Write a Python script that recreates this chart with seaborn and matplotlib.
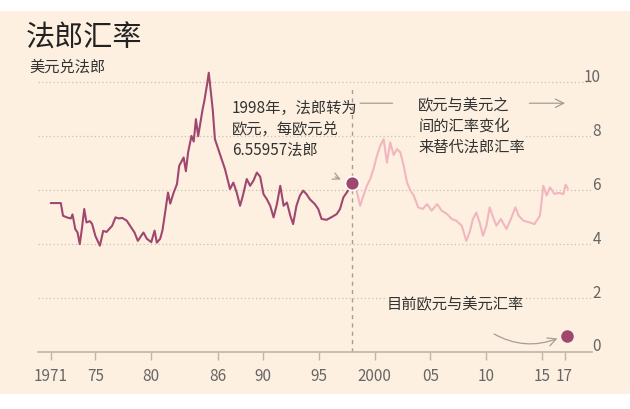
import pandas as pd
import seaborn as sns
import matplotlib.pyplot as plt
from matplotlib.patches import Rectangle
from matplotlib.transforms import ScaledTranslation

# USD/FRF until the switch to the euro
franc_years = [1971.0, 1971.9, 1972.1, 1972.5, 1972.8, 1972.95, 1973.2, 1973.4, 1973.6, 1973.8,
               1974.0, 1974.2, 1974.5, 1974.7, 1975.0, 1975.4, 1975.7, 1976.0, 1976.5, 1976.8,
               1977.1, 1977.4, 1977.8, 1978.1, 1978.5, 1978.8, 1979.3, 1979.6, 1980.0, 1980.3,
               1980.5, 1980.8, 1981.0, 1981.2, 1981.5, 1981.7, 1982.0, 1982.3, 1982.5, 1982.9,
               1983.1, 1983.3, 1983.6, 1983.8, 1984.0, 1984.2, 1984.6, 1984.75, 1985.0, 1985.15,
               1985.5, 1985.7, 1986.2, 1986.6, 1987.05, 1987.35, 1987.65, 1987.95, 1988.2, 1988.55,
               1988.85, 1989.15, 1989.45, 1989.75, 1990.05, 1990.35, 1990.65, 1990.95, 1991.25, 1991.55,
               1991.85, 1992.15, 1992.45, 1992.7, 1993.0, 1993.3, 1993.6, 1993.9, 1994.2, 1994.65,
               1994.95, 1995.25, 1995.7, 1996.15, 1996.6, 1996.9, 1997.2, 1997.5, 1997.8, 1998.0]
franc_rate = [5.52, 5.52, 5.05, 4.98, 4.95, 5.10, 4.55, 4.43, 4.00, 4.60,
              5.30, 4.80, 4.85, 4.75, 4.30, 3.94, 4.49, 4.45, 4.68, 4.99,
              4.95, 4.97, 4.87, 4.68, 4.43, 4.12, 4.43, 4.20, 4.07, 4.50,
              4.05, 4.20, 4.50, 5.05, 5.91, 5.50, 5.90, 6.22, 6.90, 7.21,
              6.70, 7.40, 8.01, 7.80, 8.63, 8.00, 9.00, 9.30, 9.93, 10.35,
              9.00, 7.89, 7.27, 6.78, 6.04, 6.28, 5.91, 5.42, 5.79, 6.41,
              6.16, 6.35, 6.65, 6.50, 5.85, 5.66, 5.42, 4.99, 5.48, 6.16,
              5.42, 5.54, 5.05, 4.74, 5.42, 5.79, 5.98, 5.85, 5.66, 5.48,
              5.30, 4.93, 4.90, 5.00, 5.11, 5.30, 5.73, 5.91, 6.10, 6.28]

# EUR/USD expressed in francs after 1998
euro_years = [1998.0, 1998.35, 1998.7, 1999.0, 1999.3, 1999.6, 1999.9, 2000.2, 2000.5, 2000.8,
              2001.1, 2001.4, 2001.7, 2002.0, 2002.3, 2002.6, 2002.9, 2003.2, 2003.5, 2003.9,
              2004.3, 2004.7, 2005.1, 2005.6, 2006.0, 2006.5, 2006.9, 2007.3, 2007.8, 2008.2,
              2008.5, 2008.8, 2009.1, 2009.4, 2009.7, 2010.0, 2010.3, 2010.6, 2010.9, 2011.3,
              2011.8, 2012.2, 2012.6, 2012.9, 2013.3, 2013.9, 2014.3, 2014.8, 2015.1, 2015.4,
              2015.7, 2016.1, 2016.5, 2016.9, 2017.1, 2017.3]
euro_rate = [6.28, 6.04, 5.42, 5.80, 6.16, 6.41, 6.78, 7.27, 7.64, 7.89,
             7.02, 7.77, 7.30, 7.52, 7.40, 6.90, 6.28, 5.98, 5.80, 5.36,
             5.30, 5.48, 5.24, 5.48, 5.24, 5.11, 4.93, 4.87, 4.68, 4.12,
             4.43, 4.93, 5.17, 4.80, 4.31, 4.68, 5.36, 5.00, 4.68, 4.93,
             4.56, 4.93, 5.36, 5.05, 4.87, 4.80, 4.74, 5.05, 6.16, 5.80,
             6.10, 5.86, 5.90, 5.85, 6.20, 6.05]

switch_year = 1998.0
switch_rate = 6.28
today_year = 2017.2
today_rate = 0.58

x_ticks = [1971, 1975, 1980, 1986, 1990, 1995, 2000, 2005, 2010, 2015, 2017]
x_labels = ['1971', '75', '80', '86', '90', '95', '2000', '05', '10', '15', '17']
y_ticks = [0, 2, 4, 6, 8, 10]

CREAM = '#fdf0e0'
DARK = '#a0476f'
PINK = '#f2b6c0'
GREY = '#a59e98'
TEXT = '#333333'


def plot_data(file_out='out.png'):
    sns.set_theme(style='white')
    plt.rcParams['font.family'] = ['Noto Sans CJK SC', 'DejaVu Sans']

    fig = plt.figure(figsize=(6.3, 4.1), dpi=100, facecolor='white')
    fig.patches.append(Rectangle((0, 15 / 410), 1, 383 / 410, transform=fig.transFigure,
                                 facecolor=CREAM, edgecolor='none', zorder=-10))
    ax = fig.add_axes([38 / 630, 57 / 410, 554 / 630, 286 / 410])
    ax.set_facecolor('none')

    df_franc = pd.DataFrame({'year': franc_years, 'rate': franc_rate})
    df_euro = pd.DataFrame({'year': euro_years, 'rate': euro_rate})
    sns.lineplot(data=df_euro, x='year', y='rate', color=PINK, lw=1.5, ax=ax, zorder=3)
    sns.lineplot(data=df_franc, x='year', y='rate', color=DARK, lw=1.5, ax=ax, zorder=4)

    ax.set_xlim(1969.86, 2019.46)
    ax.set_ylim(0, 10.6)
    ax.axvline(switch_year, ymax=9.8 / 10.6, color=GREY, lw=1, ls=(0, (3, 3)), zorder=2)

    ax.plot([switch_year], [switch_rate], 'o', ms=10, color=DARK, mec='white', mew=1.2, zorder=6)
    ax.plot([today_year], [today_rate], 'o', ms=9, color=DARK, mec='none', zorder=6)

    # axes styling
    sns.despine(ax=ax, left=True, right=True, top=True)
    ax.spines['bottom'].set_color('#bdb5ad')
    ax.spines['bottom'].set_linewidth(1.2)
    ax.set_xticks(x_ticks)
    ax.set_xticklabels(x_labels)
    ax.set_yticks(y_ticks)
    ax.grid(axis='y', color='#c9c1b8', lw=0.9, ls=(0, (1, 2)))
    ax.grid(axis='x', visible=False)
    ax.set_xlabel('')
    ax.set_ylabel('')
    ax.tick_params(axis='x', bottom=True, length=6, width=1, color='#bdb5ad',
                   labelsize=11, labelcolor='#666666', pad=5)
    ax.tick_params(axis='y', left=False, right=False, labelleft=False, labelright=True,
                   labelsize=11, labelcolor='#666666', pad=0.5)
    offset = ScaledTranslation(0, 8 / 100, fig.dpi_scale_trans)
    for lab in ax.get_yticklabels():
        lab.set_horizontalalignment('right')
        lab.set_transform(lab.get_transform() + offset)

    # annotations
    ax.text(1987.2, 9.37, '1998年，法郎转为\n欧元，每欧元兑\n6.55957法郎', ha='left', va='top',
            fontsize=11, color=TEXT, linespacing=1.3, zorder=7)
    ax.text(2003.9, 9.5, '欧元与美元之\n间的汇率变化\n来替代法郎汇率', ha='left', va='top',
            fontsize=11, color=TEXT, linespacing=1.3, zorder=7,
            bbox=dict(facecolor=CREAM, edgecolor='none', pad=1))
    ax.text(2001.1, 1.81, '目前欧元与美元汇率', ha='left', va='center',
            fontsize=11, color=TEXT, zorder=7,
            bbox=dict(facecolor=CREAM, edgecolor='none', pad=1))

    ax.annotate('', xy=(2001.85, 9.22), xytext=(1998.45, 9.22),
                arrowprops=dict(arrowstyle='-', color=GREY, lw=0.9))
    ax.annotate('', xy=(2017.3, 9.22), xytext=(2013.6, 9.22),
                arrowprops=dict(arrowstyle='->,head_length=0.5,head_width=0.25', color=GREY, lw=0.9))
    ax.annotate('', xy=(1997.2, 6.35), xytext=(1996.25, 6.53),
                arrowprops=dict(arrowstyle='->,head_length=0.4,head_width=0.2', color=GREY, lw=0.9))
    ax.annotate('', xy=(2016.6, 0.54), xytext=(2010.47, 0.72),
                arrowprops=dict(arrowstyle='->,head_length=0.5,head_width=0.25', color=GREY, lw=0.9,
                                connectionstyle='arc3,rad=0.25'))

    fig.text(26 / 630, 1 - 39 / 410, '法郎汇率', fontsize=21, color='#222222', ha='left', va='center')
    fig.text(29 / 630, 1 - 67 / 410, '美元兑法郎', fontsize=11, color=TEXT, ha='left', va='center')

    fig.savefig(file_out, dpi=100, facecolor=fig.get_facecolor())


if __name__ == "__main__":
    plot_data()
